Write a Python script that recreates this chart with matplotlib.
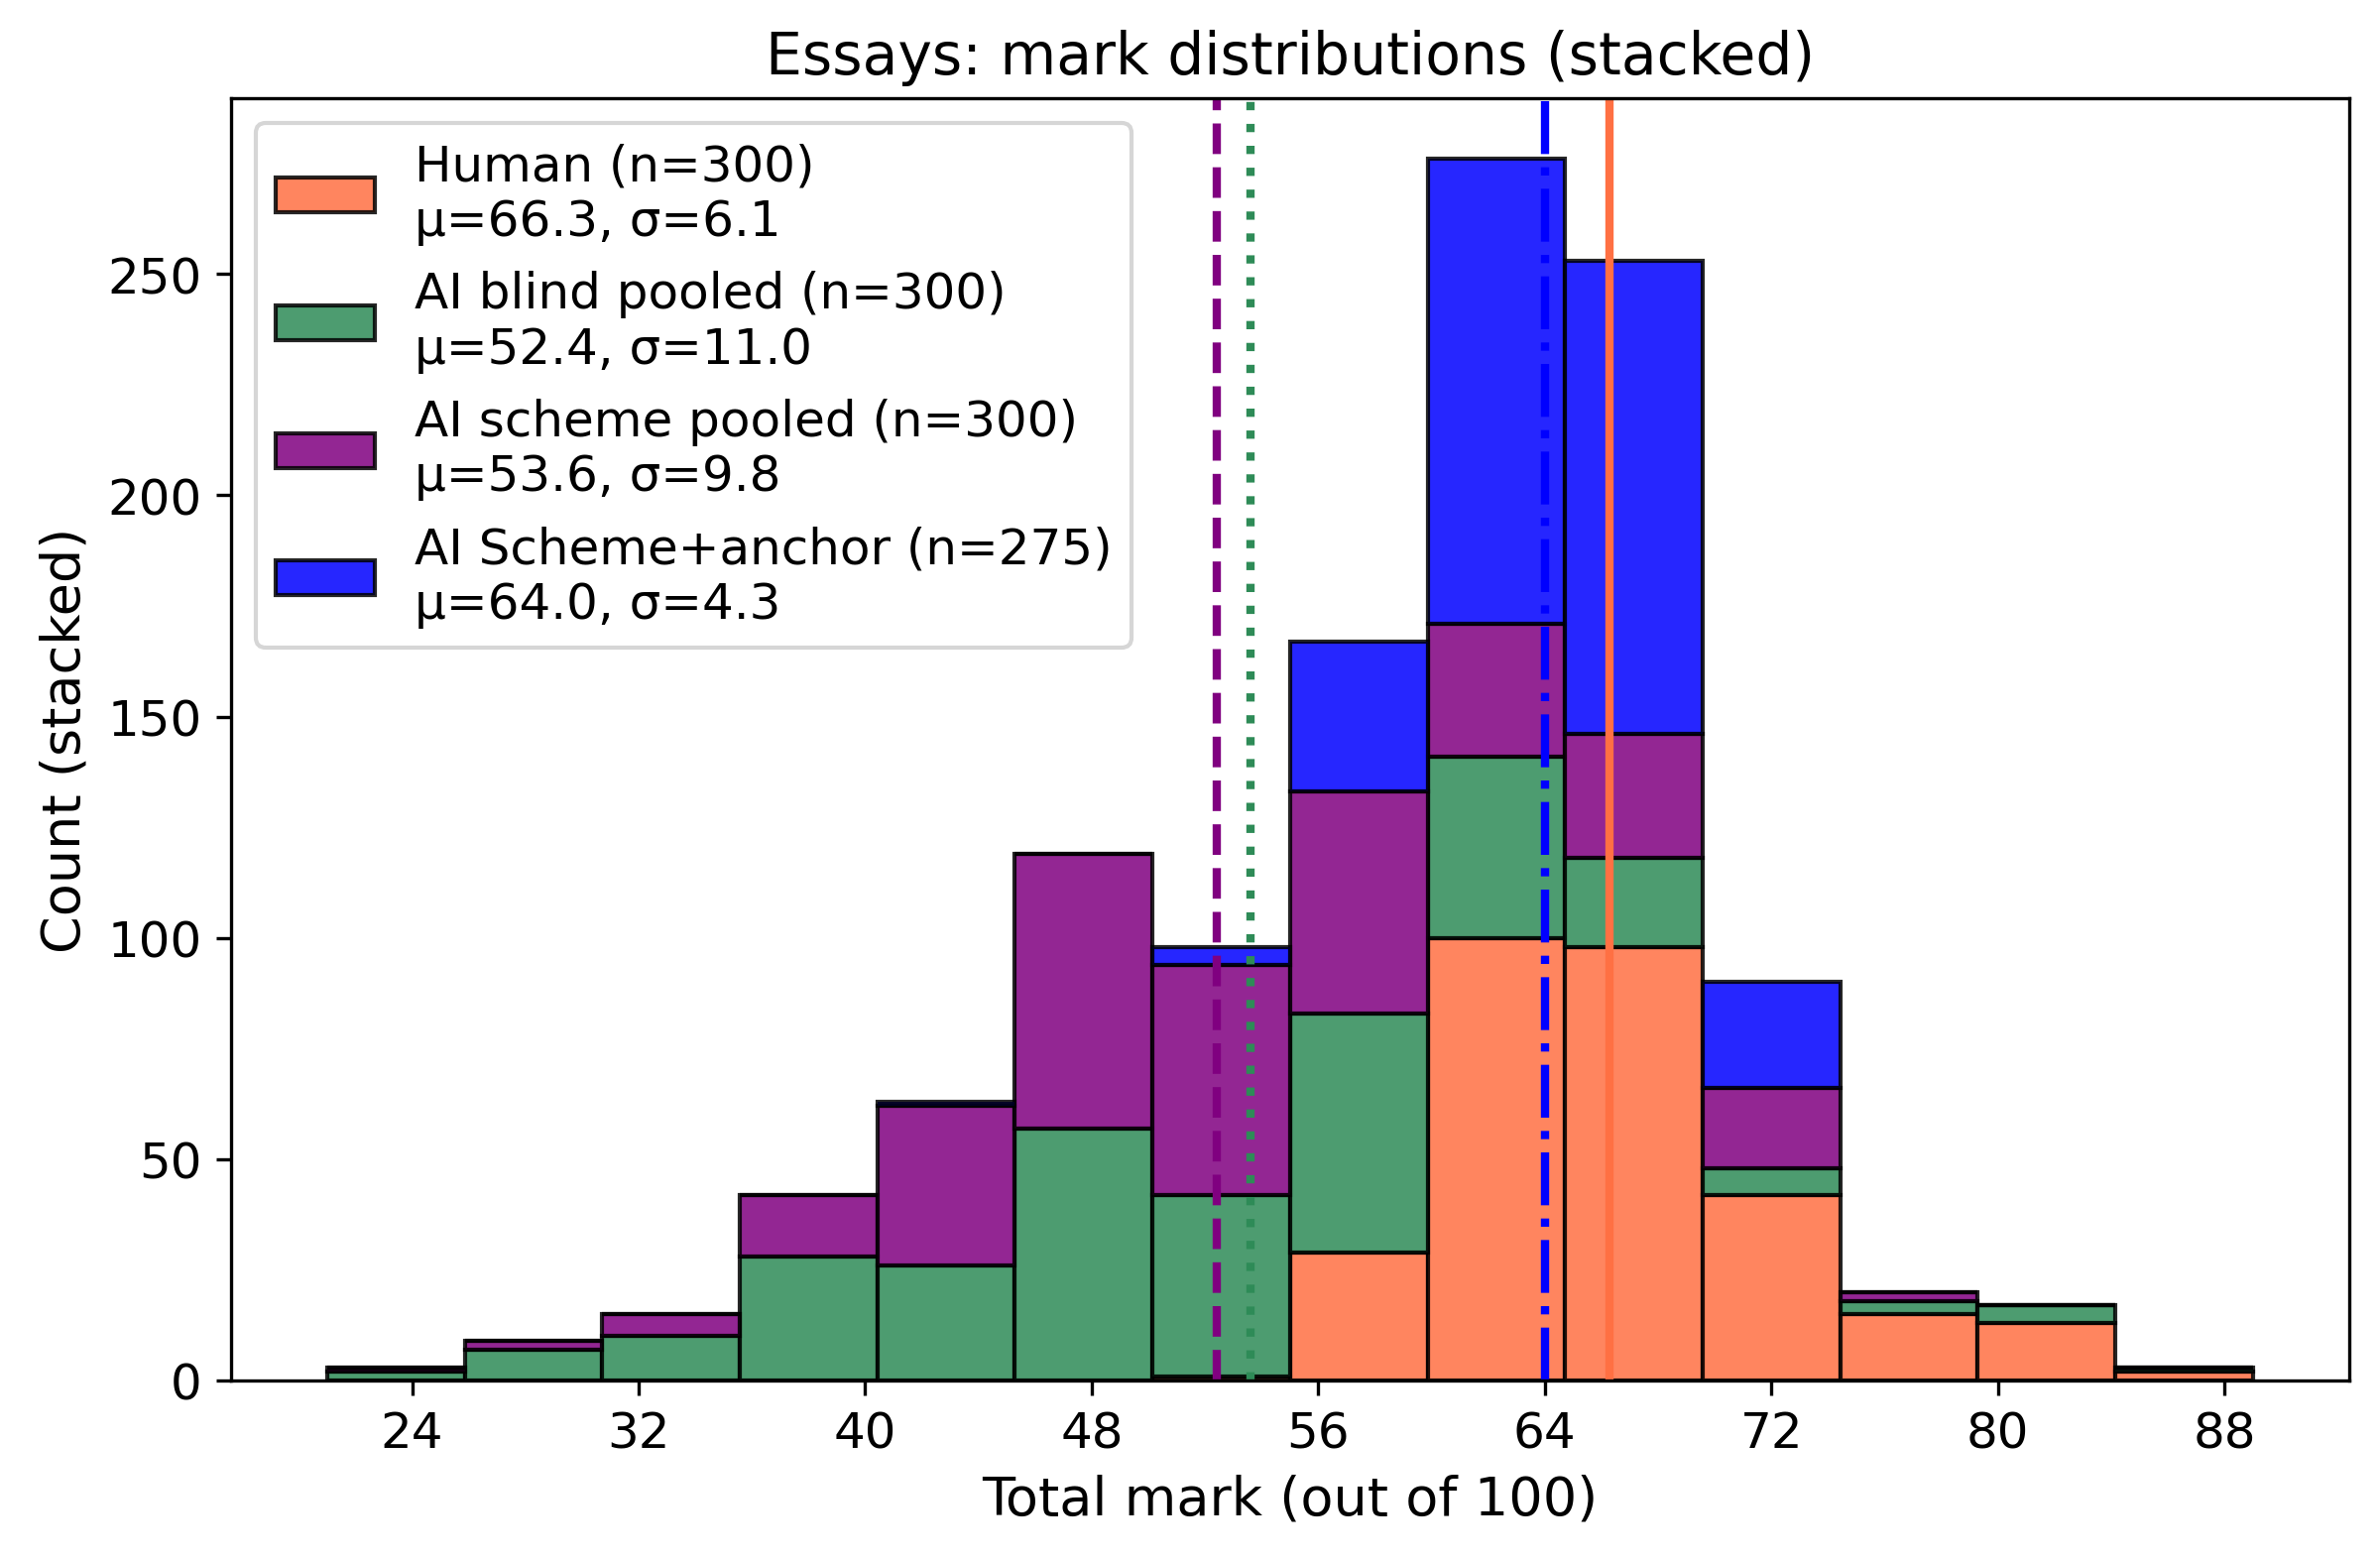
"""Stacked histogram of essay marks: human vs. three AI marking conditions."""

import matplotlib

matplotlib.use("Agg")
import matplotlib.pyplot as plt  # noqa: E402
import numpy as np  # noqa: E402

# bins span the pooled mark range
MARK_MIN, MARK_MAX, N_BINS = 21, 89, 14

# per-bin counts (lowest bin first)
human = [0, 0, 0, 0, 0, 0, 1, 29, 100, 98, 42, 15, 13, 2]
ai_blind = [2, 7, 10, 28, 26, 57, 41, 54, 41, 20, 6, 3, 4, 1]
ai_scheme = [1, 2, 5, 14, 36, 62, 52, 50, 30, 28, 18, 2, 0, 0]
ai_anchor = [0, 0, 0, 0, 1, 0, 4, 34, 105, 107, 24, 0, 0, 0]

labels = [
    "Human (n=300)\nμ=66.3, σ=6.1",
    "AI blind pooled (n=300)\nμ=52.4, σ=11.0",
    "AI scheme pooled (n=300)\nμ=53.6, σ=9.8",
    "AI Scheme+anchor (n=275)\nμ=64.0, σ=4.3",
]
colors = ["#FF7043", "seagreen", "purple", "blue"]

# mean markers as drawn in the figure: (x, colour, linestyle)
mean_lines = [
    (66.3, "#FF7043", "-"),
    (52.4, "purple", "--"),
    (53.6, "seagreen", ":"),
    (64.0, "blue", "-."),
]
xticks = [24, 32, 40, 48, 56, 64, 72, 80, 88]


def main() -> None:
    edges = np.linspace(MARK_MIN, MARK_MAX, N_BINS + 1)
    centers = 0.5 * (edges[:-1] + edges[1:])
    series = [human, ai_blind, ai_scheme, ai_anchor]

    fig, ax = plt.subplots(figsize=(8, 5.243), dpi=300)
    fig.subplots_adjust(left=0.097, right=0.987, top=0.9367, bottom=0.1144)

    ax.hist([centers] * len(series), bins=edges, weights=series, stacked=True,
            color=colors, label=labels, edgecolor="black", linewidth=1.0, alpha=0.85)
    for x, c, ls in mean_lines:
        ax.axvline(x, color=c, linestyle=ls, linewidth=2)

    ax.set_xticks(xticks)
    ax.tick_params(labelsize=12)
    ax.set_xlabel("Total mark (out of 100)", fontsize=13)
    ax.set_ylabel("Count (stacked)", fontsize=13)
    ax.set_title("Essays: mark distributions (stacked)", fontsize=14)
    ax.legend(loc="upper left", fontsize=12)

    fig.savefig("out.png", dpi=300)
    plt.close(fig)


if __name__ == "__main__":
    main()
